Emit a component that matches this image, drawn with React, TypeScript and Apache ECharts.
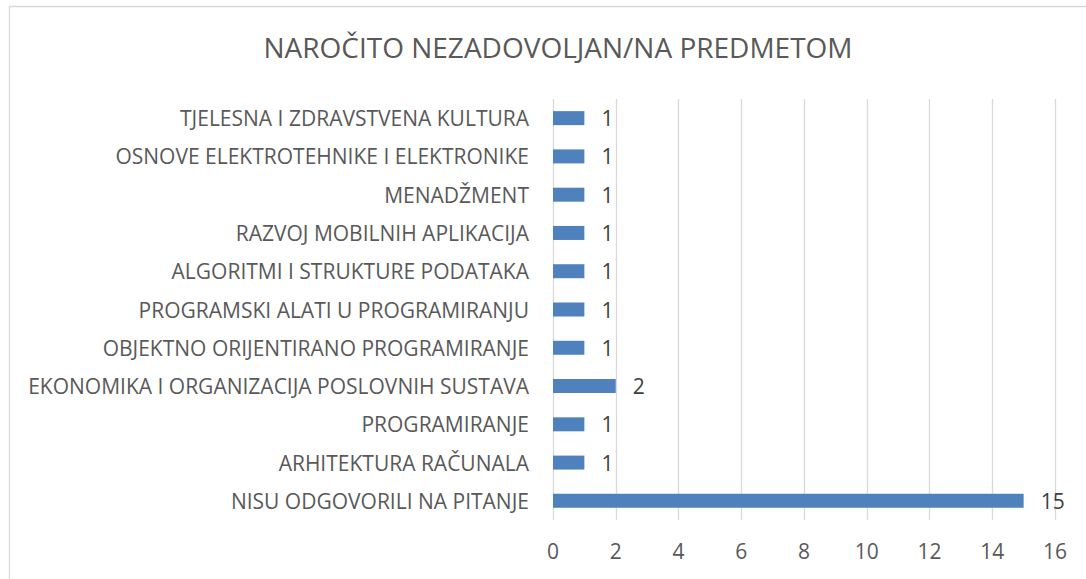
import React, { useEffect, useRef } from "react";
import * as echarts from "echarts";

const title = "NAROČITO NEZADOVOLJAN/NA PREDMETOM";
const categories = [
  "NISU ODGOVORILI NA PITANJE",
  "ARHITEKTURA RAČUNALA",
  "PROGRAMIRANJE",
  "EKONOMIKA I ORGANIZACIJA POSLOVNIH SUSTAVA",
  "OBJEKTNO ORIJENTIRANO PROGRAMIRANJE",
  "PROGRAMSKI ALATI U PROGRAMIRANJU",
  "ALGORITMI I STRUKTURE PODATAKA",
  "RAZVOJ MOBILNIH APLIKACIJA",
  "MENADŽMENT",
  "OSNOVE ELEKTROTEHNIKE I ELEKTRONIKE",
  "TJELESNA I ZDRAVSTVENA KULTURA",
];
const values = [15, 1, 1, 2, 1, 1, 1, 1, 1, 1, 1];
const axisMin = 0;
const axisMax = 16;
const axisStep = 2;

export default function App() {
  const ref = useRef<HTMLDivElement>(null);
  useEffect(() => {
    if (!ref.current) return;
    const chart = echarts.init(ref.current, null, { renderer: "svg" });
    const font = "'Open Sans', 'Noto Sans', sans-serif";
    chart.setOption({
      animation: false,
      backgroundColor: "#ffffff",
      title: {
        text: title,
        left: 553,
        textAlign: "center",
        top: 28,
        textStyle: { fontFamily: font, fontSize: 28, fontWeight: "normal", color: "#595959" },
      },
      graphic: [
        {
          type: "rect",
          shape: { x: 9.5, y: 6.5, width: 1200, height: 700 },
          style: { fill: "none", stroke: "#d9d9d9", lineWidth: 1.3 },
          silent: true,
        },
      ],
      grid: { left: 553, right: 31, top: 99, bottom: 59, containLabel: false },
      xAxis: {
        type: "value",
        min: axisMin,
        max: axisMax,
        interval: axisStep,
        axisLine: { show: false },
        axisTick: { show: false },
        axisLabel: { fontFamily: font, fontSize: 21, color: "#595959", margin: 20 },
        splitLine: { show: true, lineStyle: { color: "#d9d9d9", width: 1.3 } },
      },
      yAxis: {
        type: "category",
        data: categories,
        axisLine: { show: false },
        axisTick: { show: false },
        axisLabel: { fontFamily: font, fontSize: 21, color: "#595959", margin: 24 },
        splitLine: { show: false },
      },
      series: [
        {
          type: "bar",
          data: values,
          barWidth: 14,
          itemStyle: { color: "#4f81bd" },
          label: {
            show: true,
            position: "right",
            distance: 17,
            fontFamily: font,
            fontSize: 21,
            color: "#404040",
          },
        },
      ],
    });
    return () => chart.dispose();
  }, []);
  return (
    <div
      ref={ref}
      style={{ position: "fixed", left: 0, top: 0, width: 1086, height: 579 }}
    />
  );
}
